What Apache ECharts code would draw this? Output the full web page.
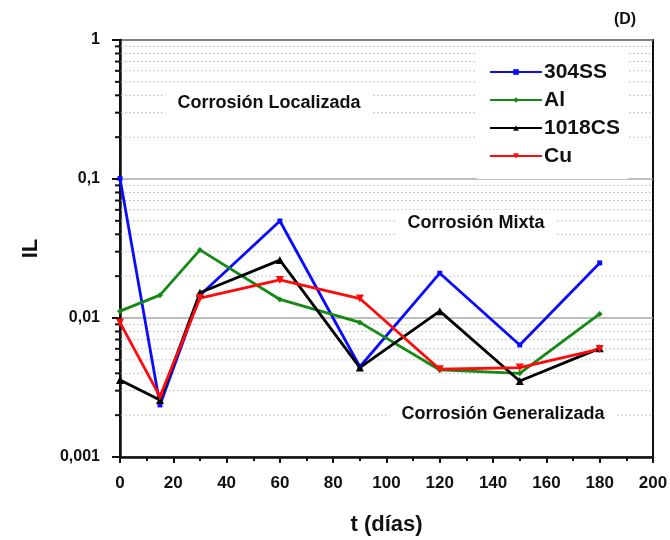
<!DOCTYPE html>
<html><head><meta charset="utf-8">
<script src="https://cdn.jsdelivr.net/npm/echarts@6/dist/echarts.min.js"></script>
<style>html,body{margin:0;padding:0;background:#fff}#c{width:670px;height:540px}</style>
</head><body><div id="c"></div>
<script>
const days = [0, 15, 30, 60, 90, 120, 150, 180];
const ss304 = [0.101, 0.00237, 0.0146, 0.0499, 0.00446, 0.0210, 0.0064, 0.0249];
const al = [0.0112, 0.0146, 0.0309, 0.0136, 0.0093, 0.00423, 0.0040, 0.0107];
const cs1018 = [0.00358, 0.00257, 0.0152, 0.0261, 0.00440, 0.0112, 0.00352, 0.00605];
const cu = [0.00925, 0.00272, 0.0139, 0.0188, 0.0138, 0.00428, 0.00440, 0.00598];
const yTickLabels = ['0,001', '0,01', '0,1', '1'];
const xTickLabels = ['0','20','40','60','80','100','120','140','160','180','200'];
const minorValues = [];
[0.001, 0.01, 0.1].forEach(d => { for (let k = 2; k <= 9; k++) minorValues.push(+(d * k).toPrecision(3)); });

const chart = echarts.init(document.getElementById('c'));
const boldFont = 'Liberation Sans, Arial, sans-serif';
const narrow = 'Liberation Sans Narrow, Arial Narrow, Liberation Sans, sans-serif';

function mkSeries(name, data, color, symbol, size, rotate) {
  return {
    name, type: 'line', data: days.map((d, i) => [d, data[i]]),
    symbol, symbolSize: size, symbolRotate: rotate || 0,
    lineStyle: { color, width: 2.8 }, itemStyle: { color },
    z: 5, clip: false
  };
}

chart.setOption({
  animation: false,
  backgroundColor: '#fff',
  grid: { left: 120, right: 17, top: 40, bottom: 83, show: true, borderColor: '#111', borderWidth: 2,
    outerBoundsMode: 'none', containLabel: false },
  xAxis: {
    type: 'value', min: 0, max: 200, interval: 20,
    name: 't (días)', nameLocation: 'middle', nameGap: 57,
    nameTextStyle: { fontFamily: narrow, fontWeight: 'bold', fontSize: 22, color: '#111' },
    axisLine: { lineStyle: { color: '#111', width: 2.5 } },
    axisTick: { show: true, inside: false, length: 6, lineStyle: { color: '#111', width: 2 } },
    minorTick: { show: true, splitNumber: 2, length: 4, lineStyle: { color: '#111', width: 2 } },
    axisLabel: { margin: 18, fontFamily: narrow, fontWeight: 'bold', fontSize: 17, color: '#111',
      formatter: v => xTickLabels[Math.round(v / 20)] },
    splitLine: { show: false }
  },
  yAxis: {
    type: 'log', logBase: 10, min: 0.001, max: 1,
    name: 'IL', nameLocation: 'middle', nameGap: 78,
    nameTextStyle: { fontFamily: boldFont, fontWeight: 'bold', fontSize: 22, color: '#111' },
    axisLine: { show: true, lineStyle: { color: '#111', width: 2.5 } },
    axisTick: { show: true, length: 8, lineStyle: { color: '#111', width: 2 } },
    axisLabel: { margin: 20, fontFamily: narrow, fontWeight: 'bold', fontSize: 16, color: '#111',
      formatter: v => yTickLabels[Math.round(Math.log10(v)) + 3] },
    splitLine: { show: true, lineStyle: { color: '#a8a8a8', width: 1.5 } }
  },
  legend: {
    orient: 'vertical', left: 477, top: 47, padding: [14, 8, 12, 12],
    backgroundColor: '#fff', itemWidth: 52, itemHeight: 7, itemGap: 6,
    textStyle: { fontFamily: boldFont, fontWeight: 'bold', fontSize: 21, lineHeight: 22, color: '#111', padding: [0, 0, 0, -3] },
    data: ['304SS', 'Al', '1018CS', 'Cu'], z: 20
  },
  graphic: [
    { type: 'text', x: 269, y: 103, z: 10, style: { text: 'Corrosión Localizada', align: 'center', verticalAlign: 'middle',
      font: 'bold 18px Liberation Sans, Arial, sans-serif', fill: '#111', backgroundColor: '#fff', padding: [4, 12] } },
    { type: 'text', x: 476, y: 223, z: 10, style: { text: 'Corrosión Mixta', align: 'center', verticalAlign: 'middle',
      font: 'bold 18px Liberation Sans, Arial, sans-serif', fill: '#111', backgroundColor: '#fff', padding: [4, 12] } },
    { type: 'text', x: 503, y: 414, z: 10, style: { text: 'Corrosión Generalizada', align: 'center', verticalAlign: 'middle',
      font: 'bold 18px Liberation Sans, Arial, sans-serif', fill: '#111', backgroundColor: '#fff', padding: [4, 12] } },
    { type: 'text', x: 625, y: 20, z: 10, style: { text: '(D)', align: 'center', verticalAlign: 'middle',
      font: 'bold 16px Liberation Sans, Arial, sans-serif', fill: '#111' } }
  ],
  series: [
    {
      type: 'custom', silent: true, z: 1, clip: false,
      data: minorValues.map(v => [0, v]),
      encode: { x: 0, y: 1 },
      renderItem: (params, api) => {
        const v = api.value(1);
        const p0 = api.coord([0, v]);
        const p1 = api.coord([200, v]);
        return { type: 'group', children: [
          { type: 'line', shape: { x1: p0[0] + 1, y1: p0[1], x2: p1[0], y2: p1[1] },
            style: { stroke: '#c4c4c4', lineWidth: 1, lineDash: [2, 2] } },
          { type: 'line', shape: { x1: p0[0] - 5, y1: p0[1], x2: p0[0], y2: p0[1] },
            style: { stroke: '#111', lineWidth: 2 } }
        ] };
      }
    },
    mkSeries('304SS', ss304, '#0a0aff', 'rect', 5),
    mkSeries('Al', al, '#138a13', 'diamond', 6),
    mkSeries('1018CS', cs1018, '#000000', 'triangle', 8),
    mkSeries('Cu', cu, '#ff0a0a', 'triangle', 8, 180)
  ]
});
</script></body></html>
